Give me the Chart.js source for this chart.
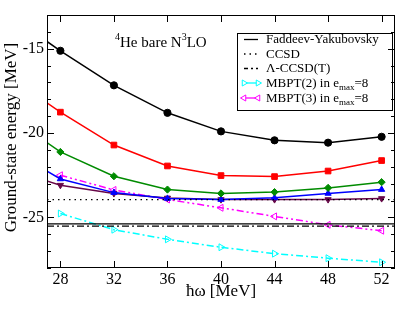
<!DOCTYPE html>
<html><head><meta charset="utf-8">
<script src="https://cdn.jsdelivr.net/npm/chart.js@4/dist/chart.umd.min.js"></script>
<style>html,body{margin:0;padding:0;background:#fff}#wrap{width:409px;height:316px}</style>
</head><body><div id="wrap"><canvas id="c" width="409" height="316"></canvas></div>
<script>
// ---- data ----
const hw = [28, 32, 36, 40, 44, 48, 52];
const hwExt = [24, 28, 32, 36, 40, 44, 48, 52];
const blackVals  = [-12.92, -15.12, -17.17, -18.80, -19.90, -20.43, -20.57, -20.22];
const redVals    = [-16.56, -18.76, -20.71, -21.95, -22.52, -22.58, -22.25, -21.63];
const greenVals  = [-18.92, -21.12, -22.56, -23.35, -23.58, -23.50, -23.25, -22.91];
const blueVals   = [-20.84, -22.72, -23.53, -23.88, -23.94, -23.84, -23.58, -23.35];
const maroonVals = [-22.09, -23.09, -23.58, -23.85, -23.94, -23.94, -23.94, -23.88];
const mbpt2Vals  = [-24.77, -25.73, -26.30, -26.77, -27.15, -27.42, -27.66];
const mbpt3Vals  = [-22.50, -23.37, -23.94, -24.43, -24.94, -25.44, -25.79];
const fyValue = -25.38;
const ccsdValue = -23.95;
const lccsdtValue = -25.52;
const xMin = 27, xMax = 53, yMin = -28, yMax = -13;
const xTicks = [28, 32, 36, 40, 44, 48, 52];
const yTicks = [-28,-27,-26,-25,-24,-23,-22,-21,-20,-19,-18,-17,-16,-15,-14,-13];
const yLabelTicks = [-25, -20, -15];
const legendLabels = ['Faddeev-Yakubovsky', 'CCSD', '\u039B-CCSD(T)', 'MBPT(2) in e', 'MBPT(3) in e'];

const SERIF = '"Liberation Serif", "DejaVu Serif", serif';
const pts = (xs, ys) => xs.map((x, i) => ({x, y: ys[i]}));
const hline = v => [{x: xMin, y: v}, {x: xMax, y: v}];

const C = {black:'#000000', red:'#ff0000', green:'#008b00', blue:'#0000ff', maroon:'#670748', cyan:'#00ffff', magenta:'#ff00ff'};

function series(data, color, style, radius, rot, open) {
  return {data, showLine:true, borderColor:color, borderWidth:1.5, backgroundColor:open?'rgba(0,0,0,0)':color,
    pointBackgroundColor:open?'rgba(0,0,0,0)':color, pointBorderColor:color, pointBorderWidth:1,
    pointStyle:style, pointRadius:radius, pointRotation:rot||0, clip:0, tension:0};
}

const datasets = [
  {data:hline(fyValue), showLine:true, borderColor:'#000', borderWidth:1.3, pointRadius:0, clip:0},
  {data:hline(ccsdValue), showLine:true, borderColor:'#000', borderWidth:1.3, borderDash:[1.5,4], pointRadius:0, clip:0},
  {data:hline(lccsdtValue), showLine:true, borderColor:'#000', borderWidth:1.3, borderDash:[7,3,2,3], pointRadius:0, clip:0},
  series(pts(hwExt, blackVals), C.black, 'circle', 3.6),
  series(pts(hwExt, redVals), C.red, 'rect', 4),
  series(pts(hwExt, greenVals), C.green, 'rectRot', 3.6),
  series(pts(hwExt, blueVals), C.blue, 'triangle', 3.6, 0),
  series(pts(hwExt, maroonVals), C.maroon, 'triangle', 3.6, 180),
  Object.assign(series(pts(hw, mbpt2Vals), C.cyan, 'triangle', 4, 90, true), {borderDash:[7,3,2,3]}),
  Object.assign(series(pts(hw, mbpt3Vals), C.magenta, 'triangle', 4, -90, true), {borderDash:[7,3,2,3,2,3]}),
];

const decor = {
  id:'decor',
  afterDraw(chart) {
    const ctx = chart.ctx, a = chart.chartArea, xs = chart.scales.x, ys = chart.scales.y;
    ctx.save();
    ctx.strokeStyle = '#000'; ctx.lineWidth = 1;
    ctx.strokeRect(Math.round(a.left)+0.5, Math.round(a.top)+0.5, Math.round(a.right-a.left)-1, Math.round(a.bottom-a.top)-1);
    // ticks
    ctx.beginPath();
    xTicks.forEach(v => {
      const px = Math.round(xs.getPixelForValue(v)) + 0.5;
      ctx.moveTo(px, a.bottom); ctx.lineTo(px, a.bottom - 7);
      ctx.moveTo(px, a.top); ctx.lineTo(px, a.top + 7);
    });
    yTicks.forEach(v => {
      const py = Math.round(ys.getPixelForValue(v)) + 0.5;
      const len = yLabelTicks.includes(v) ? 7 : 4;
      ctx.moveTo(a.left, py); ctx.lineTo(a.left + len, py);
      ctx.moveTo(a.right, py); ctx.lineTo(a.right - len, py);
    });
    ctx.stroke();
    // axis titles
    ctx.fillStyle = '#000';
    ctx.textAlign = 'center'; ctx.textBaseline = 'middle';
    ctx.font = '17px ' + SERIF;
    ctx.fillText('\u0127\u03C9 [MeV]', (a.left + a.right) / 2, 292);
    ctx.save();
    ctx.translate(12, (a.top + a.bottom) / 2 - 4);
    ctx.rotate(-Math.PI / 2);
    ctx.fillText('Ground-state energy [MeV]', 0, 0);
    ctx.restore();
    // annotation
    ctx.textAlign = 'left'; ctx.textBaseline = 'alphabetic';
    let x = 115; const yb = 47;
    const draw = (t, f, dy) => { ctx.font = f; ctx.fillText(t, x, yb + (dy||0)); x += ctx.measureText(t).width; };
    draw('4', '10px ' + SERIF, -7);
    draw('He bare N', '15px ' + SERIF);
    draw('3', '10px ' + SERIF, -7);
    draw('LO', '15px ' + SERIF);
    // legend
    ctx.lineWidth = 1;
    ctx.strokeRect(237.5, 33.5, 155, 77);
    const rows = [39, 53.5, 68, 82.5, 97.5];
    const styles = [
      {c:'#000', dash:[]}, {c:'#000', dash:[1.5,4]}, {c:'#000', dash:[4,3,2,3]},
      {c:C.cyan, dash:[], m:90}, {c:C.magenta, dash:[], m:-90}
    ];
    rows.forEach((ry, i) => {
      const s = styles[i];
      ctx.save();
      ctx.strokeStyle = s.c; ctx.lineWidth = 1.3; ctx.setLineDash(s.dash);
      ctx.beginPath(); ctx.moveTo(244, ry + 0.5); ctx.lineTo(258, ry + 0.5); ctx.stroke();
      ctx.setLineDash([]);
      if (s.m !== undefined) {
        ctx.lineWidth = 1;
        ctx.fillStyle = 'rgba(255,255,255,1)';
        [244, 258].forEach(mx => {
          Chart.helpers.drawPoint(ctx, {pointStyle:'triangle', radius:3.5, rotation:s.m, borderWidth:1}, mx, ry + 0.5);
        });
      }
      ctx.restore();
      ctx.fillStyle = '#000'; ctx.font = '13px ' + SERIF; ctx.textBaseline = 'middle';
      ctx.fillText(legendLabels[i], 266, ry + 1);
      if (i >= 3) {
        let tx = 266 + ctx.measureText(legendLabels[i]).width;
        ctx.font = '9px ' + SERIF; ctx.fillText('max', tx, ry + 5);
        tx += ctx.measureText('max').width;
        ctx.font = '13px ' + SERIF; ctx.fillText('=8', tx, ry + 1);
      }
    });
    ctx.restore();
  }
};

new Chart(document.getElementById('c'), {
  type:'scatter',
  data:{datasets},
  options:{
    responsive:false, animation:false, devicePixelRatio:1,
    layout:{padding:{top:15, right:14, left:0, bottom:0}},
    plugins:{legend:{display:false}, tooltip:{enabled:false}},
    scales:{
      x:{type:'linear', min:xMin, max:xMax,
        grid:{display:false, drawTicks:false}, border:{display:false},
        afterBuildTicks:s => { s.ticks = xTicks.map(v => ({value:v})); },
        afterFit:s => { s.height = 48; },
        ticks:{font:{family:SERIF, size:16}, color:'#000', padding:2, maxRotation:0, autoSkip:false}},
      y:{type:'linear', min:yMin, max:yMax,
        grid:{display:false, drawTicks:false}, border:{display:false},
        afterBuildTicks:s => { s.ticks = yTicks.map(v => ({value:v})); },
        afterFit:s => { s.width = 47; },
        ticks:{font:{family:SERIF, size:16}, color:'#000', padding:3, autoSkip:false,
          callback:v => yLabelTicks.includes(v) ? String(v) : ''}}
    }
  },
  plugins:[decor]
});
</script></body></html>
